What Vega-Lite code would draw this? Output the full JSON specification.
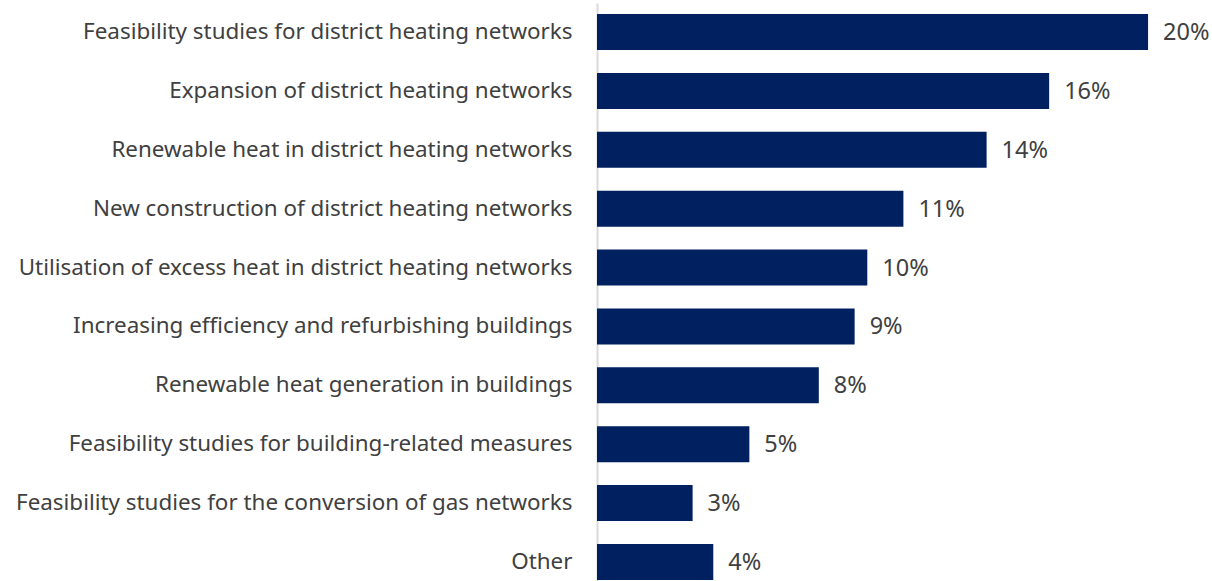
{
  "$schema": "https://vega.github.io/schema/vega-lite/v6.json",
  "autosize": {"type": "none"},
  "padding": {"left": 597, "top": 3, "right": 0, "bottom": 0},
  "width": 615,
  "height": 588,
  "background": "white",
  "config": {"view": {"stroke": null}, "font": "Noto Sans"},
  "data": {
    "values": [
      {"category": "Feasibility studies for district heating networks", "value": 20.0, "label": "20%"},
      {"category": "Expansion of district heating networks", "value": 16.41, "label": "16%"},
      {"category": "Renewable heat in district heating networks", "value": 14.14, "label": "14%"},
      {"category": "New construction of district heating networks", "value": 11.12, "label": "11%"},
      {"category": "Utilisation of excess heat in district heating networks", "value": 9.81, "label": "10%"},
      {"category": "Increasing efficiency and refurbishing buildings", "value": 9.35, "label": "9%"},
      {"category": "Renewable heat generation in buildings", "value": 8.05, "label": "8%"},
      {"category": "Feasibility studies for building-related measures", "value": 5.53, "label": "5%"},
      {"category": "Feasibility studies for the conversion of gas networks", "value": 3.47, "label": "3%"},
      {"category": "Other", "value": 4.22, "label": "4%"}
    ]
  },
  "encoding": {
    "y": {
      "field": "category",
      "type": "nominal",
      "sort": null,
      "title": null,
      "scale": {"paddingInner": 0.389, "paddingOuter": 0.187},
      "axis": {
        "ticks": false,
        "domainColor": "#d9d9d9",
        "domainWidth": 2,
        "labelPadding": 25,
        "labelFontSize": 22.4,
        "labelColor": "#404040",
        "labelFont": "Noto Sans",
        "labelLimit": 700
      }
    },
    "x": {
      "field": "value",
      "type": "quantitative",
      "scale": {"domain": [0, 22.32], "nice": false, "zero": true},
      "axis": null
    }
  },
  "layer": [
    {"mark": {"type": "bar", "color": "#002060"}},
    {
      "mark": {"type": "text", "align": "left", "baseline": "middle", "dx": 15, "dy": 1, "fontSize": 23.5, "color": "#404040", "font": "Noto Sans"},
      "encoding": {"text": {"field": "label"}}
    }
  ]
}
